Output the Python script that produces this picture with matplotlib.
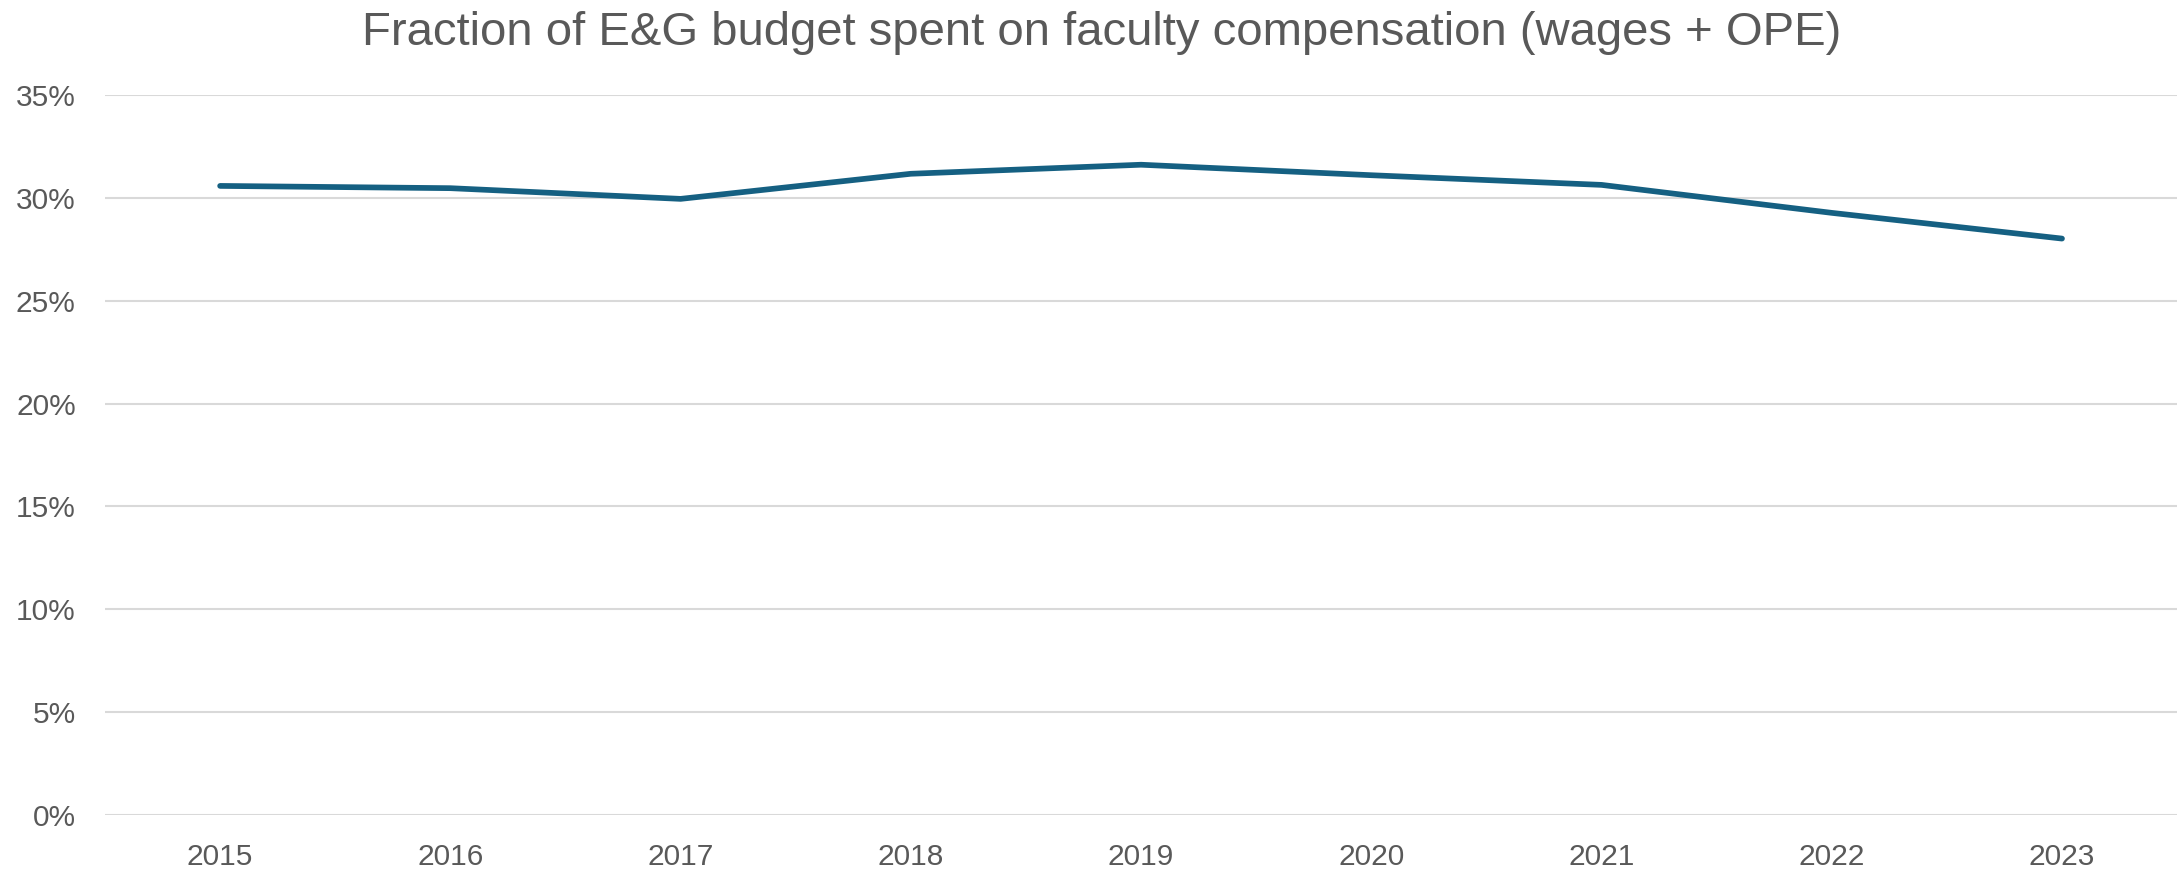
import matplotlib
matplotlib.use("Agg")
import matplotlib.pyplot as plt
from matplotlib.ticker import FuncFormatter, MultipleLocator

# share of E&G budget going to faculty wages + OPE, by fiscal year
years = ["2015", "2016", "2017", "2018", "2019", "2020", "2021", "2022", "2023"]
share = [0.3058, 0.3047, 0.2995, 0.3117, 0.3161, 0.3110, 0.3063, 0.2927, 0.2802]

plt.rcParams["font.family"] = ["Liberation Sans", "DejaVu Sans"]
text_color = "#595959"

fig = plt.figure(figsize=(21.83, 8.69), dpi=100)
ax = fig.add_axes([0.0481, 0.0621, 0.9492, 0.8286])

x = range(len(years))
ax.plot(x, share, color="#156082", linewidth=4.1, solid_capstyle="round",
        solid_joinstyle="round", zorder=3)

ax.set_xlim(-0.5, len(years) - 0.5)
ax.set_ylim(0, 0.35)
ax.yaxis.set_major_locator(MultipleLocator(0.05))
ax.yaxis.set_major_formatter(FuncFormatter(lambda v, p: f"{v * 100:.0f}%"))
ax.set_xticks(list(x))
ax.set_xticklabels(years)

ax.grid(axis="y", color="#d9d9d9", linewidth=1.5, zorder=0)
ax.set_axisbelow(True)
for s in ax.spines.values():
    s.set_visible(False)
ax.tick_params(axis="both", length=0, labelsize=21.5, labelcolor=text_color)
ax.tick_params(axis="y", pad=21)
ax.tick_params(axis="x", pad=20)

fig.text(0.5048, 0.948, "Fraction of E&G budget spent on faculty compensation (wages + OPE)",
         ha="center", va="baseline", fontsize=34, color=text_color)

fig.savefig("out.png", dpi=100, facecolor="white")
